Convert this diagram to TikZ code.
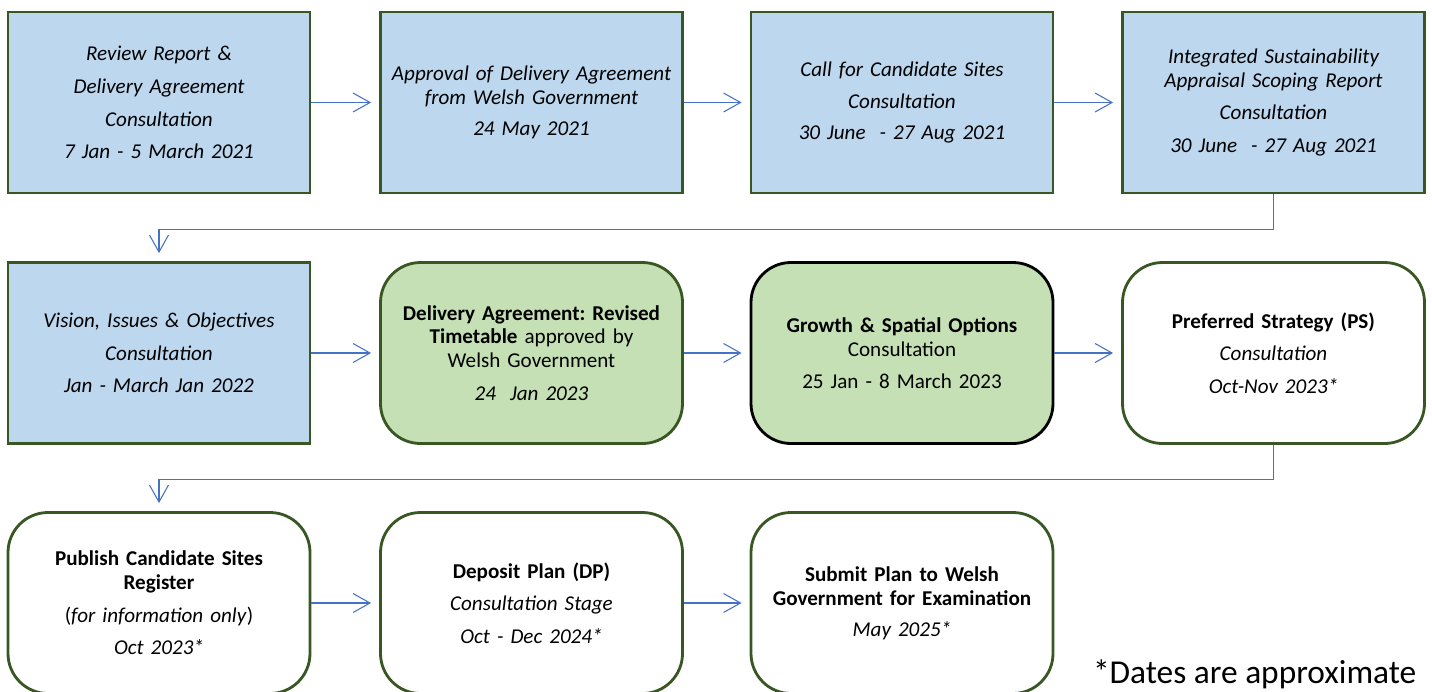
\documentclass[tikz,border=0pt]{standalone}
\usepackage{fontspec}
\setmainfont{Carlito}
\usepackage{tikz}
\usetikzlibrary{arrows.meta}
\frenchspacing
\definecolor{mydonecolor}{HTML}{BDD7EE}
\definecolor{myagreedcolor}{HTML}{C5E0B4}
\definecolor{myedgecolor}{HTML}{385723}
\definecolor{myarrowcolor}{HTML}{4472C4}
\tikzset{
  stagebox/.style={draw=myedgecolor, line width=1.6pt, rectangle, minimum width=6.04cm, minimum height=3.62cm, text width=5.8cm, align=center, font=\fontsize{12pt}{13.6pt}\selectfont},
  donebox/.style={stagebox, fill=mydonecolor},
  agreedbox/.style={stagebox, fill=myagreedcolor, rounded corners=0.8cm},
  growthbox/.style={agreedbox, draw=black},
  futurebox/.style={stagebox, fill=white, rounded corners=0.8cm},
  flowarrow/.style={draw=myarrowcolor, line width=0.6pt, -{Straight Barb[length=3.4mm,width=3.8mm]}, shorten >=1.6mm}
}

\begin{document}
\begin{tikzpicture}%
\useasboundingbox (0,0) rectangle (28.64,-13.82);%
% first row
\node[donebox] (review) at (3.18, -2.05) {\itshape Review Report \&\\[5pt] Delivery Agreement\\[5pt] Consultation\\[5pt] 7 Jan - 5 March 2021};%
\node[donebox] (approval) at (10.63, -2.05) {\itshape Approval of Delivery Agreement\\ from Welsh Government\\[4pt] 24 May 2021};%
\node[donebox] (callsites) at (18.04, -2.05) {\itshape Call for Candidate Sites\\[4.5pt] Consultation\\[4.5pt] 30 June~ - 27 Aug 2021};%
\node[donebox] (scoping) at (25.47, -2.05) {\itshape Integrated Sustainability\\ Appraisal Scoping Report\\[5pt] Consultation\\[5pt] 30 June~ - 27 Aug 2021};%
% second row
\node[donebox] (vision) at (3.18, -7.06) {\itshape Vision, Issues \& Objectives\\[5pt] Consultation\\[5pt] Jan - March Jan 2022};%
\node[agreedbox] (timetable) at (10.63, -7.06) {\textbf{Delivery Agreement: Revised}\\ \textbf{Timetable} approved by\\ Welsh Government\\[5pt] \textit{24~ Jan 2023}};%
\node[growthbox] (growth) at (18.04, -7.06) {\textbf{Growth \& Spatial Options}\\ Consultation\\[4.5pt] 25 Jan - 8 March 2023};%
\node[futurebox] (preferred) at (25.47, -7.06) {\textbf{Preferred Strategy (PS)}\\[5pt] \textit{Consultation}\\[5pt] \textit{Oct-Nov 2023*}};%
% third row
\node[futurebox] (register) at (3.18, -12.06) {\textbf{Publish Candidate Sites}\\ \textbf{Register}\\[5pt] (\textit{for information only})\\[5pt] \textit{Oct 2023*}};%
\node[futurebox] (deposit) at (10.63, -12.06) {\textbf{Deposit Plan (DP)}\\[5pt] \textit{Consultation Stage}\\[5pt] \textit{Oct - Dec 2024*}};%
\node[futurebox] (submit) at (18.04, -12.06) {\textbf{Submit Plan to Welsh}\\ \textbf{Government for Examination}\\[4pt] \textit{May 2025*}};%
\node[anchor=base east, font=\fontsize{19pt}{23pt}\selectfont] (approx) at (28.45, -13.66) {*Dates are approximate};%
% connectors
\draw[flowarrow] (review) -- (approval);%
\draw[flowarrow] (approval) -- (callsites);%
\draw[flowarrow] (callsites) -- (scoping);%
\draw[flowarrow] (scoping.south) -- ++(0,-0.7) -| (vision.north);%
\draw[flowarrow] (vision) -- (timetable);%
\draw[flowarrow] (timetable) -- (growth);%
\draw[flowarrow] (growth) -- (preferred);%
\draw[flowarrow] (preferred.south) -- ++(0,-0.7) -| (register.north);%
\draw[flowarrow] (register) -- (deposit);%
\draw[flowarrow] (deposit) -- (submit);%
\end{tikzpicture}
\end{document}
